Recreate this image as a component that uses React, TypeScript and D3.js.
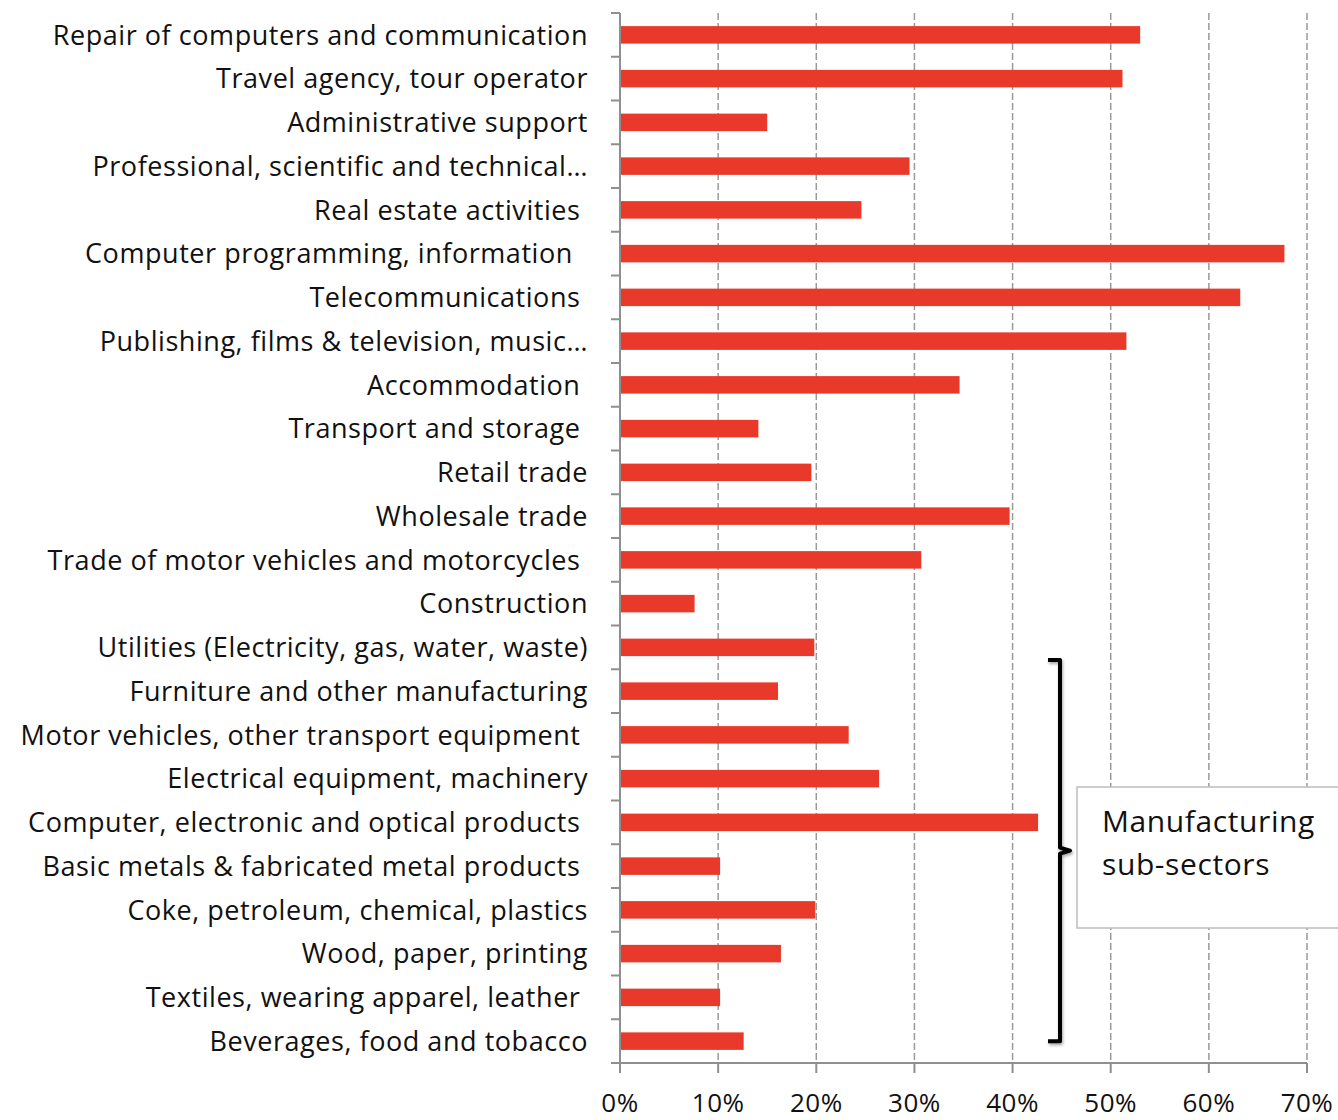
import React from 'react';
import * as d3 from 'd3';

const categories = [
  'Repair of computers and communication',
  'Travel agency, tour operator',
  'Administrative support',
  'Professional, scientific and technical…',
  'Real estate activities ',
  'Computer programming, information  ',
  'Telecommunications ',
  'Publishing, films & television, music…',
  'Accommodation ',
  'Transport and storage ',
  'Retail trade',
  'Wholesale trade',
  'Trade of motor vehicles and motorcycles ',
  'Construction',
  'Utilities (Electricity, gas, water, waste)',
  'Furniture and other manufacturing',
  'Motor vehicles, other transport equipment ',
  'Electrical equipment, machinery',
  'Computer, electronic and optical products ',
  'Basic metals & fabricated metal products ',
  'Coke, petroleum, chemical, plastics',
  'Wood, paper, printing',
  'Textiles, wearing apparel, leather ',
  'Beverages, food and tobacco',
];

const shares = [
  0.530, 0.512, 0.150, 0.295, 0.246, 0.677, 0.632, 0.516, 0.346, 0.141, 0.195, 0.397,
  0.307, 0.076, 0.198, 0.161, 0.233, 0.264, 0.426, 0.102, 0.199, 0.164, 0.102, 0.126,
];

const xTicks = [0, 0.1, 0.2, 0.3, 0.4, 0.5, 0.6, 0.7];

const manufacturingFirst = 'Furniture and other manufacturing';
const manufacturingLast = 'Beverages, food and tobacco';
const noteLines = ['Manufacturing', 'sub-sectors'];

const W = 1338;
const H = 1120;
const left = 620;
const right = 1307;
const top = 13;
const bottom = 1063;

const font = '"Open Sans", sans-serif';
const axisColor = '#8f8f8f';

export default function App() {
  const x = d3.scaleLinear().domain([0, 0.7]).range([left, right]);
  const y = d3
    .scaleBand<string>()
    .domain(categories)
    .range([top, bottom])
    .paddingInner(0.6)
    .paddingOuter(0.3);

  const step = y.step();
  const bw = y.bandwidth();
  const fmt = d3.format('.0%');

  // bracket around manufacturing rows
  const by0 = (y(manufacturingFirst) as number) + bw / 2 - step * 0.71;
  const by1 = (y(manufacturingLast) as number) + bw / 2;
  const bx = 1060;
  const bmid = (by0 + by1) / 2;

  const boundaries = d3.range(categories.length + 1).map((i) => top + i * step);

  return (
    <div style={{ position: 'absolute', left: 0, top: 0 }}>
      <svg width={W} height={H} style={{ display: 'block', background: '#fff' }}>
        <defs>
          <filter id="shadow" x="-50%" y="-10%" width="200%" height="120%">
            <feDropShadow dx="1" dy="2" stdDeviation="1.5" floodColor="#000" floodOpacity="0.35" />
          </filter>
        </defs>

        {/* gridlines */}
        {xTicks.slice(1).map((t) => (
          <line
            key={'g' + t}
            x1={x(t)}
            x2={x(t)}
            y1={top}
            y2={bottom}
            stroke="#9a9a9a"
            strokeWidth={1.5}
            strokeDasharray="7,3"
          />
        ))}

        {/* bars */}
        {categories.map((c, i) => (
          <rect
            key={c}
            x={x(0)}
            y={y(c)}
            width={x(shares[i]) - x(0)}
            height={bw}
            fill="#e8392a"
          />
        ))}

        {/* y axis */}
        <line x1={left} x2={left} y1={top} y2={bottom} stroke={axisColor} strokeWidth={2} />
        {boundaries.map((b, i) => (
          <line key={'yt' + i} x1={left - 9} x2={left} y1={b} y2={b} stroke={axisColor} strokeWidth={2} />
        ))}
        {categories.map((c) => (
          <text
            key={'l' + c}
            x={588}
            y={(y(c) as number) + bw / 2}
            dy="0.36em"
            textAnchor="end"
            fontFamily={font}
            fontSize={27}
            letterSpacing={0.55}
            fill="#111"
            style={{ whiteSpace: 'pre' }}
          >
            {c}
          </text>
        ))}

        {/* x axis */}
        <line x1={left} x2={right} y1={bottom} y2={bottom} stroke={axisColor} strokeWidth={2} />
        {xTicks.map((t) => (
          <g key={'xt' + t}>
            <line x1={x(t)} x2={x(t)} y1={bottom} y2={bottom + 10} stroke={axisColor} strokeWidth={2} />
            <text
              x={x(t)}
              y={1112}
              textAnchor="middle"
              fontFamily={font}
              fontSize={26}
              letterSpacing={0.5}
              fill="#111"
            >
              {fmt(t)}
            </text>
          </g>
        ))}

        {/* bracket */}
        <path
          d={`M${bx - 12},${by0} H${bx} V${bmid - 3} L${bx + 10},${bmid} L${bx},${bmid + 3} V${by1} H${bx - 12}`}
          fill="none"
          stroke="#000"
          strokeWidth={4}
          strokeLinejoin="round"
          filter="url(#shadow)"
        />

        {/* note box */}
        <rect x={1077} y={787} width={290} height={141} fill="#fff" stroke="#bdbdbd" strokeWidth={1.5} />
        {noteLines.map((line, i) => (
          <text
            key={line}
            x={1102}
            y={832 + i * 43}
            fontFamily={font}
            fontSize={30}
            letterSpacing={0.6}
            fill="#111"
          >
            {line}
          </text>
        ))}
      </svg>
    </div>
  );
}
